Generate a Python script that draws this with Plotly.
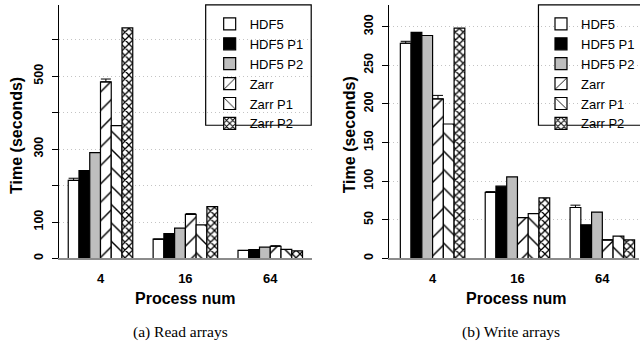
import plotly.graph_objects as go

W, H = 640, 345

groups = ["4", "16", "64"]
series = ["HDF5", "HDF5 P1", "HDF5 P2", "Zarr", "Zarr P1", "Zarr P2"]

read_hdf5 = [214, 53, 22]
read_hdf5_p1 = [241, 68, 24.5]
read_hdf5_p2 = [290, 83, 31]
read_zarr = [484, 121, 33.5]
read_zarr_p1 = [364, 92, 25]
read_zarr_p2 = [632, 142, 21]
read_err_hdf5 = [6, 0, 0]
read_err_zarr = [8, 2, 1.5]

write_hdf5 = [278.5, 85.5, 66]
write_hdf5_p1 = [292.5, 93.5, 43.5]
write_hdf5_p2 = [288.5, 105.5, 60]
write_zarr = [206.5, 53, 24]
write_zarr_p1 = [174, 58, 29]
write_zarr_p2 = [298, 78.5, 24]
write_err_hdf5 = [2.5, 1, 3]
write_err_zarr = [4.5, 0, 0]

read_ticks = [0, 100, 200, 300, 400, 500, 600]
read_ticktext = ["0", "100", "", "300", "", "500", ""]
write_ticks = [0, 50, 100, 150, 200, 250, 300]

FONT = "Liberation Sans, Arial, Helvetica, sans-serif"
SERIF = "Liberation Serif, Times New Roman, serif"


def hatch(shape, size, solidity):
    return dict(shape=shape, size=size, solidity=solidity, fgcolor="black", fgopacity=1,
                bgcolor="white", fillmode="replace")


styles = {
    "HDF5": dict(color="white", pattern=None),
    "HDF5 P1": dict(color="black", pattern=None),
    "HDF5 P2": dict(color="#bebebe", pattern=None),
    "Zarr": dict(color="white", pattern=hatch("/", 13, 0.11)),
    "Zarr P1": dict(color="white", pattern=hatch("\\", 13, 0.11)),
    "Zarr P2": dict(color="white", pattern=hatch("x", 5.5, 0.4)),
}

read_vals = [read_hdf5, read_hdf5_p1, read_hdf5_p2, read_zarr, read_zarr_p1, read_zarr_p2]
write_vals = [write_hdf5, write_hdf5_p1, write_hdf5_p2, write_zarr, write_zarr_p1, write_zarr_p2]
read_errs = {"HDF5": read_err_hdf5, "Zarr": read_err_zarr}
write_errs = {"HDF5": write_err_hdf5, "Zarr": write_err_zarr}

fig = go.Figure()


def add_panel(vals, errs, xa, ya, legend):
    for name, v in zip(series, vals):
        st = styles[name]
        marker = dict(color=st["color"], line=dict(color="black", width=1.2))
        if st["pattern"]:
            marker["pattern"] = st["pattern"]
        kw = {}
        if name in errs:
            kw["error_y"] = dict(type="data", array=errs[name], arrayminus=[0] * len(groups),
                                 symmetric=False, color="black", thickness=1, width=5)
        fig.add_trace(go.Bar(x=groups, y=v, name=name, marker=marker, xaxis=xa, yaxis=ya,
                             legend=legend, **kw))


add_panel(read_vals, read_errs, "x", "y", "legend")
add_panel(write_vals, write_errs, "x2", "y2", "legend2")

ydom = [1 - 260 / H, 1 - 5 / H]
xcommon = dict(type="category", showline=True, linecolor="#8c8c8c", linewidth=1.5,
               ticks="", showgrid=False, zeroline=False, ticklabelstandoff=7,
               tickfont=dict(family=FONT, size=13, color="black", weight="bold"))
ycommon = dict(showline=True, linecolor="black", linewidth=1.3, ticks="outside", ticklen=6,
               tickwidth=1, tickcolor="black", tickangle=-90, showgrid=True,
               gridcolor="#c4c4c4", griddash="1px,3px", gridwidth=1, zeroline=False,
               ticklabelstandoff=4,
               tickfont=dict(family=FONT, size=12.5, color="black", weight="bold"))

fig.update_layout(
    width=W, height=H, margin=dict(l=0, r=0, t=0, b=0),
    paper_bgcolor="white", plot_bgcolor="white",
    barmode="group", bargap=0.24, bargroupgap=0,
    xaxis=dict(domain=[59 / W, 312 / W], range=[-0.49, 2.486], anchor="y", **xcommon),
    yaxis=dict(domain=ydom, range=[0, 695], anchor="x", tickvals=read_ticks,
               ticktext=read_ticktext, **ycommon),
    xaxis2=dict(domain=[390 / W, 1.0], range=[-0.509, 2.432], anchor="y2", **xcommon),
    yaxis2=dict(domain=ydom, range=[0, 328], anchor="x2", tickvals=write_ticks, **ycommon),
    legend=dict(x=210 / W, y=1 - 9 / H, xanchor="left", yanchor="top", bgcolor="rgba(0,0,0,0)",
                borderwidth=0, font=dict(family=FONT, size=13, color="black")),
    legend2=dict(x=542 / W, y=1 - 9 / H, xanchor="left", yanchor="top", bgcolor="rgba(0,0,0,0)",
                 borderwidth=0, font=dict(family=FONT, size=13, color="black")),
    showlegend=True,
)

# legend frames
for x0, x1 in [(206, 311.7), (539.3, 660)]:
    fig.add_shape(type="rect", xref="paper", yref="paper", x0=x0 / W, x1=x1 / W,
                  y0=1 - 126 / H, y1=1 - 5 / H, line=dict(color="black", width=1.2),
                  fillcolor="rgba(0,0,0,0)", layer="above")

ann = []
for xc in [17, 350]:
    ann.append(dict(text="Time (seconds)", x=xc / W, y=1 - 135.7 / H, textangle=-90,
                    font=dict(family=FONT, size=16, color="black", weight="bold")))
for xc in [185, 517]:
    ann.append(dict(text="Process num", x=xc / W, y=1 - 300 / H,
                    font=dict(family=FONT, size=16, color="black", weight="bold")))
for xc, t in [(181, "(a) Read arrays"), (512, "(b) Write arrays")]:
    ann.append(dict(text=t, x=xc / W, y=1 - 334 / H,
                    font=dict(family=SERIF, size=15.5, color="black")))
for a in ann:
    a.update(xref="paper", yref="paper", showarrow=False, xanchor="center", yanchor="middle")
fig.update_layout(annotations=ann)

fig.write_html("out.html", config={"displayModeBar": False},
               post_script="document.body.style.margin='0';document.body.style.overflow='hidden';")
